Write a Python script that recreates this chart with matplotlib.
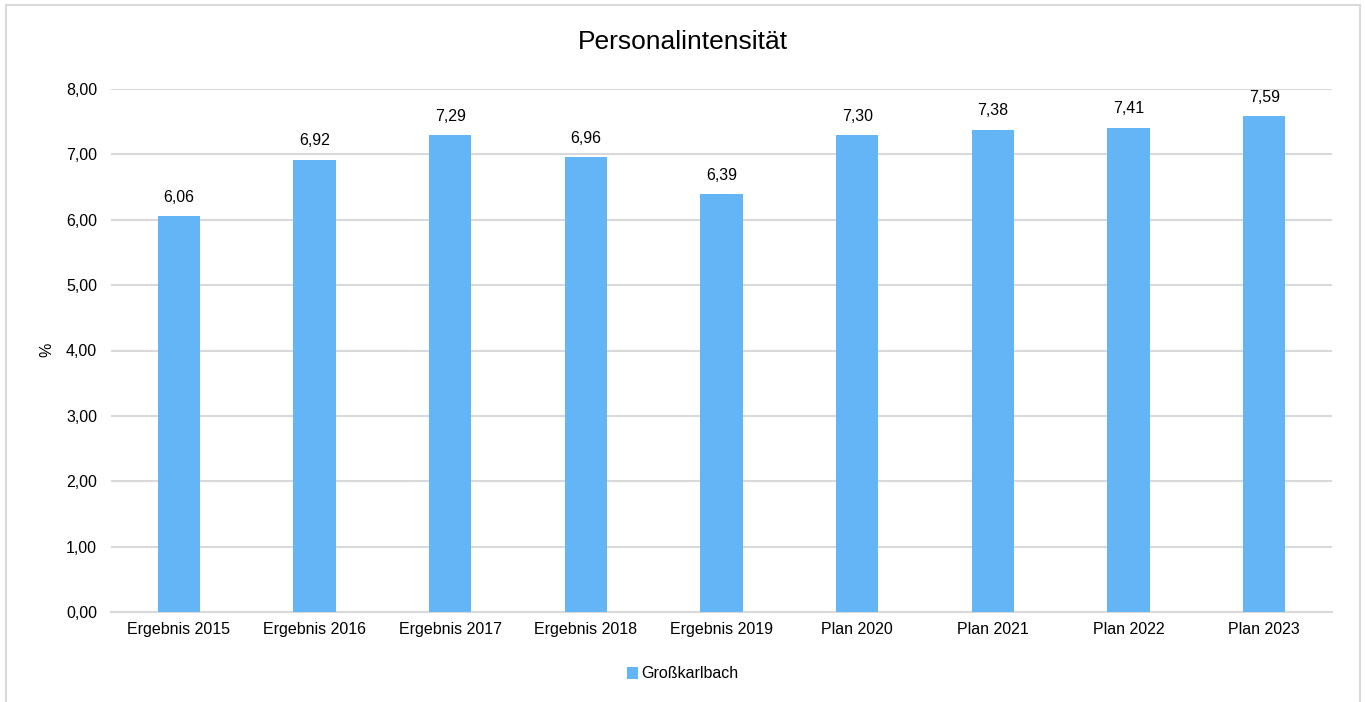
import matplotlib.pyplot as plt
from matplotlib.patches import Rectangle
from matplotlib.ticker import FuncFormatter

plt.rcParams['font.family'] = ['Liberation Sans', 'DejaVu Sans']

categories = ['Ergebnis 2015', 'Ergebnis 2016', 'Ergebnis 2017', 'Ergebnis 2018',
              'Ergebnis 2019', 'Plan 2020', 'Plan 2021', 'Plan 2022', 'Plan 2023']
values = [6.06, 6.92, 7.29, 6.96, 6.39, 7.30, 7.38, 7.41, 7.59]
series_name = 'Großkarlbach'

bar_color = '#63B5F5'
grid_color = '#D9D9D9'
fs = 11.5


def de(v, _=None):
    return f'{v:.2f}'.replace('.', ',')


fig = plt.figure(figsize=(13.65, 7.02), dpi=100)
# outer chart frame (open at the bottom edge)
fig.patches.append(Rectangle((6 / 1365, -0.1), 1354 / 1365, 1.1 - 5 / 702,
                             transform=fig.transFigure, fill=False,
                             edgecolor=grid_color, linewidth=1.5))

ax = fig.add_axes([111 / 1365, 1 - 612 / 702, 1221 / 1365, 523 / 702])
x = range(len(categories))
bars = ax.bar(x, values, width=0.31, color=bar_color, label=series_name, zorder=3)

for b, v in zip(bars, values):
    ax.annotate(de(v), (b.get_x() + b.get_width() / 2, v), xytext=(0, 8),
                textcoords='offset points', ha='center', va='bottom', fontsize=fs)

ax.set_xlim(-0.5, len(categories) - 0.5)
ax.set_ylim(0, 8)
ax.set_yticks([0, 1, 2, 3, 4, 5, 6, 7, 8])
ax.yaxis.set_major_formatter(FuncFormatter(de))
ax.set_xticks(list(x))
ax.set_xticklabels(categories)
ax.tick_params(axis='y', length=0, labelsize=fs, pad=10)
ax.tick_params(axis='x', length=0, labelsize=fs, pad=7)
ax.grid(axis='y', color=grid_color, linewidth=1.5, zorder=0)
for s in ['top', 'right', 'left']:
    ax.spines[s].set_visible(False)
ax.spines['bottom'].set_color(grid_color)
ax.spines['bottom'].set_linewidth(1.5)

fig.text(47 / 1365, 1 - 350 / 702, '%', rotation=90, ha='center', va='center', fontsize=fs)
fig.text(0.5, 1 - 42 / 702, 'Personalintensität', ha='center', va='center', fontsize=19)

fig.legend(loc='center', bbox_to_anchor=(0.5, 1 - 674 / 702), frameon=False,
           fontsize=fs, handlelength=0.7, handleheight=0.7, handletextpad=0.2)

fig.savefig('out.png', dpi=100)
